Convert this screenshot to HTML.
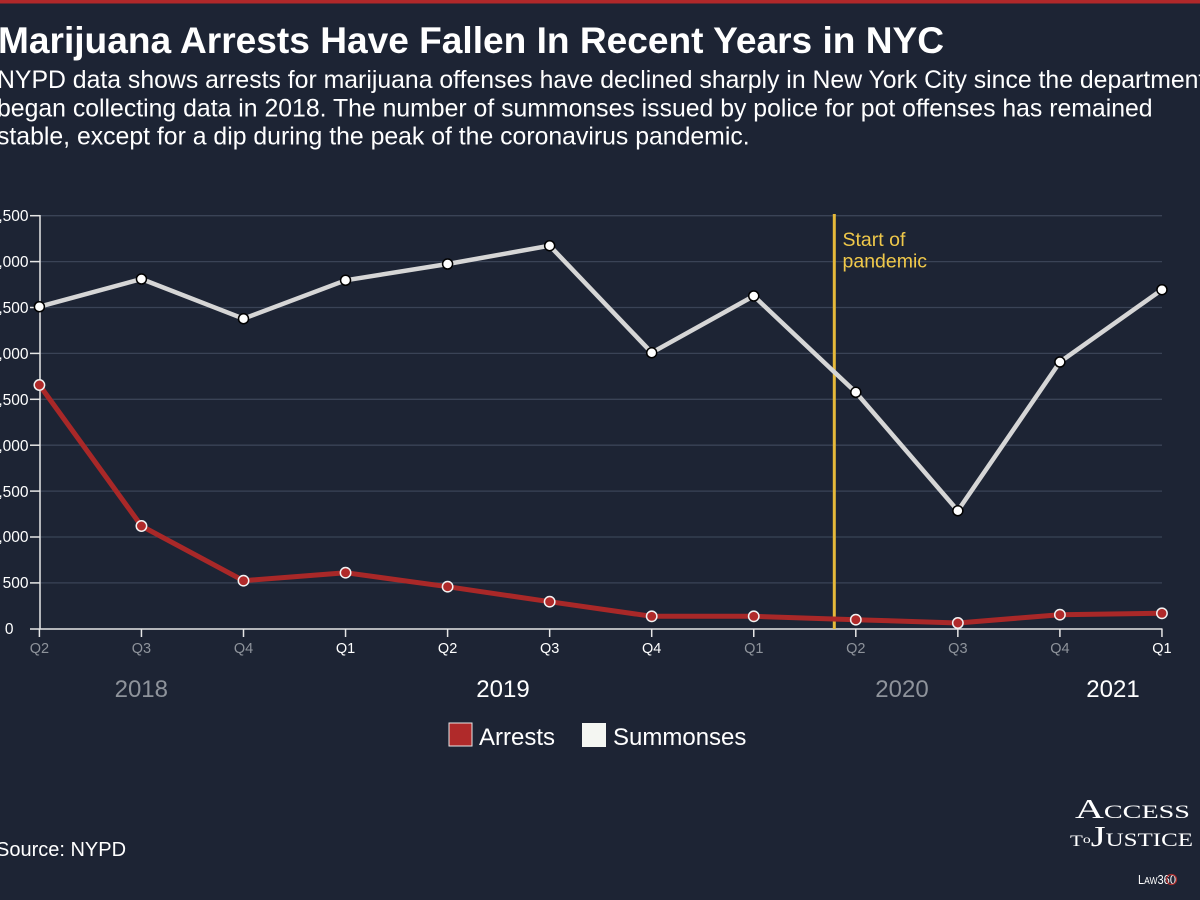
<!DOCTYPE html>
<html>
<head>
<meta charset="utf-8">
<style>
  html, body { margin:0; padding:0; background:#1d2434; }
  body { width:1200px; height:900px; overflow:hidden; position:relative; font-family:"Liberation Sans", Arial, sans-serif; }
  svg { position:absolute; left:0; top:0; }
</style>
</head>
<body>
<svg width="1200" height="900" viewBox="0 0 1200 900" xmlns="http://www.w3.org/2000/svg">
  <rect x="0" y="0" width="1200" height="900" fill="#1d2434"/>
  <rect x="0" y="0" width="1200" height="3.5" fill="#b0282a"/>

  <!-- Title -->
  <text x="-2" y="53" font-family="Liberation Sans, Arial, sans-serif" font-weight="bold" font-size="37" fill="#ffffff" textLength="946" lengthAdjust="spacingAndGlyphs">Marijuana Arrests Have Fallen In Recent Years in NYC</text>
  <g font-family="Liberation Sans, Arial, sans-serif" font-size="24.8" fill="#ffffff">
    <text x="-3" y="88">NYPD data shows arrests for marijuana offenses have declined sharply in New York City since the department</text>
    <text x="-3" y="116.5">began collecting data in 2018. The number of summonses issued by police for pot offenses has remained</text>
    <text x="-3" y="144.5">stable, except for a dip during the peak of the coronavirus pandemic.</text>
  </g>

  <!-- Gridlines -->
  <g stroke="#3a4356" stroke-width="1.3">
    <line x1="40" y1="215.7" x2="1162" y2="215.7"/>
    <line x1="40" y1="261.6" x2="1162" y2="261.6"/>
    <line x1="40" y1="307.5" x2="1162" y2="307.5"/>
    <line x1="40" y1="353.4" x2="1162" y2="353.4"/>
    <line x1="40" y1="399.3" x2="1162" y2="399.3"/>
    <line x1="40" y1="445.2" x2="1162" y2="445.2"/>
    <line x1="40" y1="491.1" x2="1162" y2="491.1"/>
    <line x1="40" y1="537.0" x2="1162" y2="537.0"/>
    <line x1="40" y1="582.9" x2="1162" y2="582.9"/>
  </g>

  <!-- Y axis ticks -->
  <g stroke="#e6e6e6" stroke-width="1.5">
    <line x1="30" y1="215.7" x2="40" y2="215.7"/>
    <line x1="30" y1="261.6" x2="40" y2="261.6"/>
    <line x1="30" y1="307.5" x2="40" y2="307.5"/>
    <line x1="30" y1="353.4" x2="40" y2="353.4"/>
    <line x1="30" y1="399.3" x2="40" y2="399.3"/>
    <line x1="30" y1="445.2" x2="40" y2="445.2"/>
    <line x1="30" y1="491.1" x2="40" y2="491.1"/>
    <line x1="30" y1="537.0" x2="40" y2="537.0"/>
    <line x1="30" y1="582.9" x2="40" y2="582.9"/>
    <line x1="40" y1="215" x2="40" y2="629"/>
    <line x1="30" y1="629" x2="1162.5" y2="629"/>
  </g>

  <!-- Y labels -->
  <g font-family="Liberation Sans, Arial, sans-serif" font-size="15.5" fill="#ffffff" text-anchor="end">
    <text x="28.5" y="221">4,500</text>
    <text x="28.5" y="267">4,000</text>
    <text x="28.5" y="313">3,500</text>
    <text x="28.5" y="359">3,000</text>
    <text x="28.5" y="405">2,500</text>
    <text x="28.5" y="451">2,000</text>
    <text x="28.5" y="497">1,500</text>
    <text x="28.5" y="542">1,000</text>
    <text x="28.5" y="588">500</text>
    <text x="13.5" y="634">0</text>
  </g>

  <!-- X ticks -->
  <g stroke="#e6e6e6" stroke-width="1.5">
    <line x1="39.4" y1="629" x2="39.4" y2="637"/>
    <line x1="141.45" y1="629" x2="141.45" y2="637"/>
    <line x1="243.5" y1="629" x2="243.5" y2="637"/>
    <line x1="345.55" y1="629" x2="345.55" y2="637"/>
    <line x1="447.6" y1="629" x2="447.6" y2="637"/>
    <line x1="549.65" y1="629" x2="549.65" y2="637"/>
    <line x1="651.7" y1="629" x2="651.7" y2="637"/>
    <line x1="753.75" y1="629" x2="753.75" y2="637"/>
    <line x1="855.8" y1="629" x2="855.8" y2="637"/>
    <line x1="957.85" y1="629" x2="957.85" y2="637"/>
    <line x1="1059.9" y1="629" x2="1059.9" y2="637"/>
    <line x1="1161.95" y1="629" x2="1161.95" y2="637"/>
  </g>

  <!-- X labels -->
  <g font-family="Liberation Sans, Arial, sans-serif" font-size="14.5" text-anchor="middle">
    <text x="39.4" y="653" fill="#8e939b">Q2</text>
    <text x="141.45" y="653" fill="#8e939b">Q3</text>
    <text x="243.5" y="653" fill="#8e939b">Q4</text>
    <text x="345.55" y="653" fill="#ffffff">Q1</text>
    <text x="447.6" y="653" fill="#ffffff">Q2</text>
    <text x="549.65" y="653" fill="#ffffff">Q3</text>
    <text x="651.7" y="653" fill="#ffffff">Q4</text>
    <text x="753.75" y="653" fill="#8e939b">Q1</text>
    <text x="855.8" y="653" fill="#8e939b">Q2</text>
    <text x="957.85" y="653" fill="#8e939b">Q3</text>
    <text x="1059.9" y="653" fill="#8e939b">Q4</text>
    <text x="1161.95" y="653" fill="#ffffff">Q1</text>
  </g>
  <g font-family="Liberation Sans, Arial, sans-serif" font-size="24" text-anchor="middle">
    <text x="141.3" y="697" fill="#8e939b">2018</text>
    <text x="503" y="697" fill="#ffffff">2019</text>
    <text x="902" y="697" fill="#8e939b">2020</text>
    <text x="1113" y="697" fill="#ffffff">2021</text>
  </g>

  <!-- Pandemic line -->
  <line x1="834.3" y1="214" x2="834.3" y2="629" stroke="#e6b93a" stroke-width="3"/>
  <g font-family="Liberation Sans, Arial, sans-serif" font-size="19.5" fill="#efc84a">
    <text x="842.5" y="246">Start of</text>
    <text x="842.5" y="267.5">pandemic</text>
  </g>

  <!-- Summonses -->
  <polyline fill="none" stroke="#d6d6d6" stroke-width="4.5" stroke-linejoin="round"
    points="39.4,306.7 141.45,279 243.5,318.7 345.55,280.3 447.6,264 549.65,245.7 651.7,352.7 753.75,296 855.8,392.3 957.85,510.7 1059.9,362 1161.95,289.7"/>
  <g fill="#ffffff" stroke="#000000" stroke-width="1.5">
    <circle cx="39.4" cy="306.7" r="5"/>
    <circle cx="141.45" cy="279" r="5"/>
    <circle cx="243.5" cy="318.7" r="5"/>
    <circle cx="345.55" cy="280.3" r="5"/>
    <circle cx="447.6" cy="264" r="5"/>
    <circle cx="549.65" cy="245.7" r="5"/>
    <circle cx="651.7" cy="352.7" r="5"/>
    <circle cx="753.75" cy="296" r="5"/>
    <circle cx="855.8" cy="392.3" r="5"/>
    <circle cx="957.85" cy="510.7" r="5"/>
    <circle cx="1059.9" cy="362" r="5"/>
    <circle cx="1161.95" cy="289.7" r="5"/>
  </g>

  <!-- Arrests -->
  <polyline fill="none" stroke="#a92828" stroke-width="5" stroke-linejoin="round"
    points="39.4,385 141.45,526 243.5,580.7 345.55,572.7 447.6,586.7 549.65,601.7 651.7,616.3 753.75,616.3 855.8,619.7 957.85,623 1059.9,614.7 1161.95,613.3"/>
  <g fill="#b02a2a" stroke="#f2f2f2" stroke-width="1.5">
    <circle cx="39.4" cy="385" r="5.2"/>
    <circle cx="141.45" cy="526" r="5.2"/>
    <circle cx="243.5" cy="580.7" r="5.2"/>
    <circle cx="345.55" cy="572.7" r="5.2"/>
    <circle cx="447.6" cy="586.7" r="5.2"/>
    <circle cx="549.65" cy="601.7" r="5.2"/>
    <circle cx="651.7" cy="616.3" r="5.2"/>
    <circle cx="753.75" cy="616.3" r="5.2"/>
    <circle cx="855.8" cy="619.7" r="5.2"/>
    <circle cx="957.85" cy="623" r="5.2"/>
    <circle cx="1059.9" cy="614.7" r="5.2"/>
    <circle cx="1161.95" cy="613.3" r="5.2"/>
  </g>

  <!-- Legend -->
  <rect x="449" y="723" width="23" height="23" fill="#b02a2a" stroke="#e8e8e8" stroke-width="1"/>
  <text x="479" y="745" font-family="Liberation Sans, Arial, sans-serif" font-size="24" fill="#ffffff">Arrests</text>
  <rect x="582" y="723" width="24" height="24" fill="#f4f6f2"/>
  <text x="613" y="745" font-family="Liberation Sans, Arial, sans-serif" font-size="24" fill="#ffffff">Summonses</text>

  <!-- Source -->
  <text x="-4" y="856" font-family="Liberation Sans, Arial, sans-serif" font-size="20" fill="#ffffff">Source: NYPD</text>

  <!-- Logo -->
  <g font-family="Liberation Serif, 'Times New Roman', serif" fill="#ffffff">
    <text x="1075" y="818" textLength="115" lengthAdjust="spacingAndGlyphs"><tspan font-size="27">A</tspan><tspan font-size="19">CCESS</tspan></text>
    <text x="1070" y="846" textLength="123" lengthAdjust="spacingAndGlyphs"><tspan font-size="16">T</tspan><tspan font-size="12" dy="-3">o</tspan><tspan font-size="29" dy="3">J</tspan><tspan font-size="19">USTICE</tspan></text>
    <text x="1138" y="884" font-family="Liberation Sans, Arial, sans-serif" font-size="13" fill="#ffffff" textLength="38" lengthAdjust="spacingAndGlyphs">L<tspan font-size="10">AW</tspan>360</text>
    <circle cx="1171.5" cy="879.5" r="5" fill="none" stroke="#a52a2a" stroke-width="1.3"/>
  </g>
</svg>
</body>
</html>
